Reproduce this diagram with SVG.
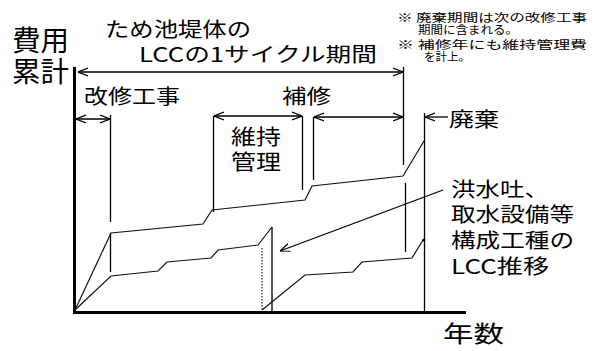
<svg xmlns="http://www.w3.org/2000/svg" width="594" height="351" viewBox="0 0 594 351">
<style>
text{font-family:"Noto Sans CJK JP","Noto Sans",sans-serif;fill:#000}
.l{fill:none;stroke:#000;stroke-width:1.3}
.c{fill:none;stroke:#111;stroke-width:1.2;stroke-linejoin:miter}
.ax{fill:none;stroke:#000;stroke-width:3}
.da{marker-start:url(#ah);marker-end:url(#ah)}
.sa{marker-end:url(#ah)}
.f{font-size:20px}
.n{font-size:11.5px}
</style>
<defs>
<marker id="ah" viewBox="0 0 10 10" refX="10" refY="5" markerUnits="userSpaceOnUse" markerWidth="10" markerHeight="10" orient="auto-start-reverse">
<path d="M0,1 L10,5 L0,9" fill="none" stroke="#000" stroke-width="1.2"/>
</marker>
</defs>
<rect width="594" height="351" fill="#fff"/>
<g id="axes">
<path class="ax" d="M74.5,67 V312.5 H466"/>
<text style="font-size:28px"><tspan x="12" y="51" textLength="57" lengthAdjust="spacingAndGlyphs">費用</tspan><tspan x="12" y="82" textLength="57" lengthAdjust="spacingAndGlyphs">累計</tspan></text>
<text x="443" y="342" style="font-size:23px" textLength="61" lengthAdjust="spacingAndGlyphs">年数</text>
</g>
<g id="title">
<text style="font-size:20px"><tspan x="105" y="37" textLength="146" lengthAdjust="spacingAndGlyphs">ため池堤体の</tspan><tspan x="139" y="62" textLength="238" lengthAdjust="spacingAndGlyphs">LCCの1サイクル期間</tspan></text>
</g>
<g id="notes">
<text class="n"><tspan x="397" y="22" textLength="190" lengthAdjust="spacingAndGlyphs">※ 廃棄期間は次の改修工事</tspan><tspan x="418" y="34" textLength="100" lengthAdjust="spacingAndGlyphs">期間に含まれる。</tspan><tspan x="397" y="49" textLength="190" lengthAdjust="spacingAndGlyphs">※ 補修年にも維持管理費</tspan><tspan x="424" y="61" textLength="46" lengthAdjust="spacingAndGlyphs">を計上。</tspan></text>
</g>
<g id="label-kaishu"><text class="f" x="84" y="104" textLength="96" lengthAdjust="spacingAndGlyphs">改修工事</text></g>
<g id="label-hoshu"><text class="f" x="282" y="104" textLength="49" lengthAdjust="spacingAndGlyphs">補修</text></g>
<g id="label-iji">
<text style="font-size:21px"><tspan x="231" y="144" textLength="50" lengthAdjust="spacingAndGlyphs">維持</tspan><tspan x="231" y="169" textLength="50" lengthAdjust="spacingAndGlyphs">管理</tspan></text>
</g>
<g id="label-haiki"><text class="f" x="449" y="127" textLength="50" lengthAdjust="spacingAndGlyphs">廃棄</text></g>
<g id="label-lcc">
<text class="f"><tspan x="451" y="197" textLength="98" lengthAdjust="spacingAndGlyphs">洪水吐、</tspan><tspan x="451" y="222" textLength="123" lengthAdjust="spacingAndGlyphs">取水設備等</tspan><tspan x="451" y="248" textLength="123" lengthAdjust="spacingAndGlyphs">構成工種の</tspan><tspan x="451" y="274" textLength="98" lengthAdjust="spacingAndGlyphs">LCC推移</tspan></text>
</g>
<g id="connectors">
<line class="l da" x1="78" y1="72" x2="403" y2="72"/>
<line class="l da" x1="76" y1="119" x2="110" y2="119"/>
<line class="l da" x1="214" y1="116" x2="302" y2="116"/>
<line class="l da" x1="314" y1="117" x2="403" y2="117"/>
<line class="l sa" x1="448" y1="117" x2="425" y2="117"/>
<line class="l sa" x1="443" y1="190" x2="280" y2="251"/>
<path class="l" d="M403.5,67 V165 M405.5,183 V252 M424.5,113 V311 M110.5,115 V222 M110.5,233 V272 M213.5,116 V212 M302.5,116 V190 M313.5,117 V180 M272,227 V311"/>
<line x1="262" y1="248" x2="262" y2="310" stroke="#000" stroke-width="1" stroke-dasharray="1.5,1.5"/>
<polyline class="c" points="75,310 111,233 203,224 212,210 305,200 312,186 403,176 424,141"/>
<polyline class="c" points="75,310 111,276 158,271 167,262 211,258 218,250 258,245 272,227"/>
<polyline class="c" points="262,310 305,275 353,272 362,262 412,258 423,240 425,240"/>
<circle cx="424" cy="240" r="1.5" fill="#000"/>
</g>
</svg>
